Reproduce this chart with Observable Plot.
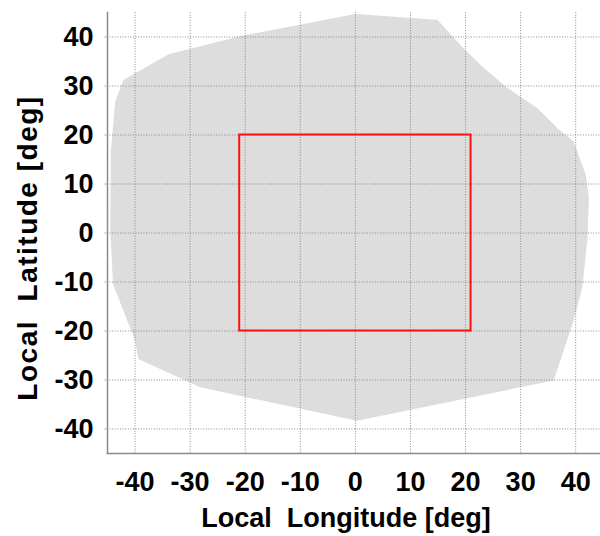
<!DOCTYPE html>
<html>
<head>
<meta charset="utf-8">
<script src="https://cdn.jsdelivr.net/npm/d3@7"></script>
<script src="https://cdn.jsdelivr.net/npm/@observablehq/plot@0.6"></script>
<style>
  html, body { margin: 0; padding: 0; background: #fff; }
  svg { display: block; }
</style>
</head>
<body>
<div id="chart"></div>
<script>
// Coverage region outline (local longitude, local latitude, deg)
const regionLon = [0, 14.9, 19.6, 23.3, 27.6, 33.0, 36.7, 39.6, 41.8, 42.4, 42.1, 41.2, 39.6, 36.0, 0.3, -28.2, -39.4, -40.0, -44.0, -44.5, -44.4, -43.6, -42.1, -33.9, -20.4];
const regionLat = [44.7, 43.5, 37.7, 33.7, 29.6, 25.5, 21.4, 18.7, 12.0, 7.1, -1.6, -11.1, -17.9, -30.1, -38.3, -31.5, -25.7, -22.0, -10.4, 0.4, 16.7, 26.9, 31.2, 36.5, 40.3];
// Red box extents
const boxLon = [-21, 21];
const boxLat = [-20, 20];
// Tick values
const xTicks = [-40, -30, -20, -10, 0, 10, 20, 30, 40];
const yTicks = [-40, -30, -20, -10, 0, 10, 20, 30, 40];
const xLabel = "Local  Longitude [deg]";
const yLabel = "Local  Latitude [deg]";

const region = regionLon.map((x, i) => ({x, y: regionLat[i]}));
const box = [{x1: boxLon[0], x2: boxLon[1], y1: boxLat[0], y2: boxLat[1]}];

const font = "Arial, 'Liberation Sans', sans-serif";
const fmt = d => String(d);

const chart = Plot.plot({
  width: 600,
  height: 536,
  marginLeft: 107,
  marginRight: 0,
  marginTop: 12,
  marginBottom: 83,
  style: {fontFamily: font, fontWeight: "bold", fontSize: "27px", color: "#000", background: "#fff"},
  x: {domain: [-45, 44.5], ticks: xTicks},
  y: {domain: [-45, 45], ticks: yTicks},
  marks: [
    Plot.line(region, {x: "x", y: "y", curve: "linear-closed", fill: "#dddddd", stroke: "none"}),
    Plot.gridX(xTicks, {stroke: "#8a8a8a", strokeOpacity: 1, strokeWidth: 1, strokeDasharray: "1,1.6"}),
    Plot.gridY(yTicks, {stroke: "#8a8a8a", strokeOpacity: 1, strokeWidth: 1, strokeDasharray: "1,1.6"}),
    Plot.axisX(xTicks, {tickSize: 0, tickPadding: 18, tickFormat: fmt, fontSize: 27, fontWeight: "bold", label: null}),
    Plot.axisY(yTicks, {tickSize: 3, tickPadding: 11, tickFormat: fmt, stroke: "#a9c9ec", fontSize: 27, fontWeight: "bold", label: null}),
    Plot.frame({anchor: "left", stroke: "#8a8a8a", strokeWidth: 1.5}),
    Plot.frame({anchor: "bottom", stroke: "#8a8a8a", strokeWidth: 1.5}),
    Plot.rect(box, {x1: "x1", x2: "x2", y1: "y1", y2: "y2", fill: "none", stroke: "#ff1010", strokeWidth: 2}),
    Plot.text([xLabel], {frameAnchor: "bottom", text: d => d, textAnchor: "middle", lineAnchor: "middle", dy: 65, dx: -8, fontSize: 27, fontWeight: "bold", fill: "#000"}),
    Plot.text([yLabel], {frameAnchor: "left", text: d => d, textAnchor: "middle", lineAnchor: "middle", rotate: -90, dx: -79, dy: 15, fontSize: 28, fontWeight: "bold", fill: "#000"})
  ]
});
chart.querySelectorAll("text").forEach(t => {
  t.style.whiteSpace = "pre";
  if (t.textContent === yLabel) t.style.letterSpacing = "1.5px";
});
document.getElementById("chart").appendChild(chart);
</script>
</body>
</html>
